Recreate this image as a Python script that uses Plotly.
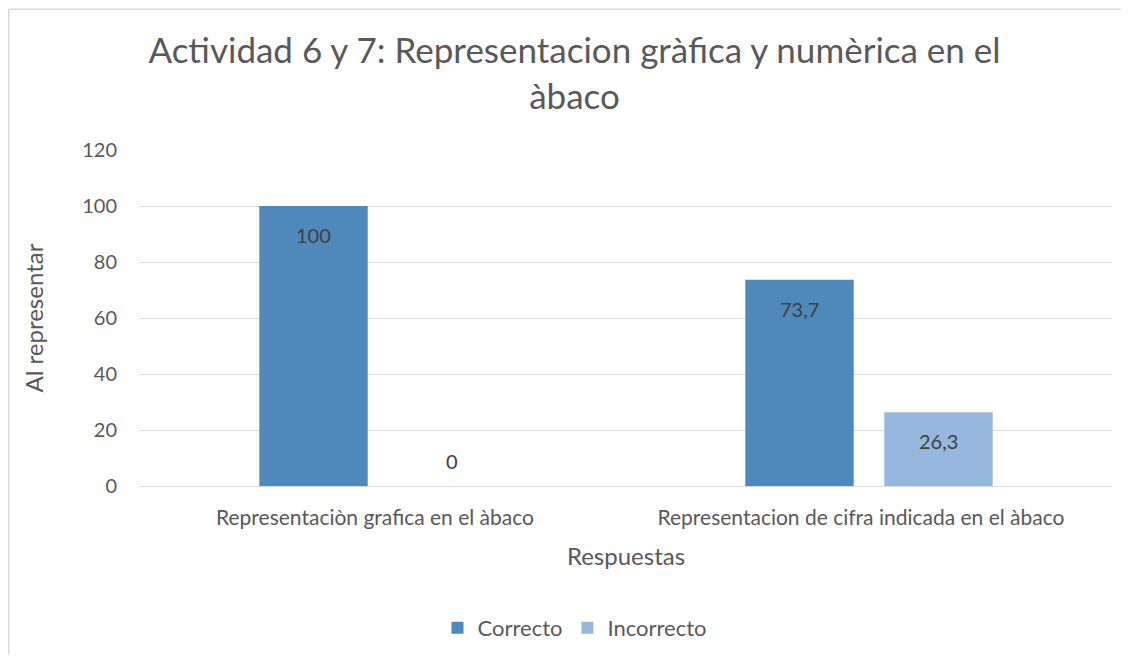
import plotly.graph_objects as go

categories = ["Representaciòn grafica en el àbaco", "Representacion de cifra indicada en el àbaco"]
correcto = [100, 73.7]
incorrecto = [0, 26.3]
y_ticks = [0, 20, 40, 60, 80, 100, 120]

# page body has an 8px margin; figure sized to fit the window
W, H = 1113, 648
ml, mt = 132, 142
pw, ph = 972, 337
mr, mb = W - ml - pw, H - mt - ph

BARGAP, GROUPGAP = 0.428, 0.22
slot_px = pw / len(categories) * (1 - BARGAP) / 2

def fmt(v):
    return ("%g" % v).replace(".", ",")

FONT = "Lato, Open Sans, sans-serif"
TXT = "#595959"
LBL = "#404040"
BORDER = "#D9D9D9"

fig = go.Figure()
fig.add_trace(go.Bar(name="Correcto", x=categories, y=correcto,
                     marker=dict(color="#4F88BB", line=dict(width=0))))
fig.add_trace(go.Bar(name="Incorrecto", x=categories, y=incorrecto,
                     marker=dict(color="#97B8DD", line=dict(width=0))))

# data labels (Excel style: inside end, or above baseline for zero)
for series, sign in ((correcto, -1), (incorrecto, 1)):
    for cat, v in zip(categories, series):
        fig.add_annotation(x=cat, y=v, text=fmt(v), showarrow=False,
                           xshift=sign * slot_px / 2,
                           yshift=-29 if v > 0 else 25,
                           font=dict(family=FONT, size=20, color=LBL))

# outer chart border (only top and left edges visible)
top_y = 1 + (mt - 0.75) / ph
left_x = (0.75 - ml) / pw
fig.add_shape(type="line", xref="paper", yref="paper",
              x0=left_x, x1=(W - ml) / pw, y0=top_y, y1=top_y,
              line=dict(color=BORDER, width=1.5), layer="below")
fig.add_shape(type="line", xref="paper", yref="paper",
              x0=left_x, x1=left_x, y0=-(H - mt - ph) / ph, y1=top_y,
              line=dict(color=BORDER, width=1.5), layer="below")

fig.update_layout(
    width=W, height=H,
    margin=dict(l=ml, r=mr, t=mt, b=mb),
    paper_bgcolor="white", plot_bgcolor="white",
    title=dict(text="Actividad 6 y 7: Representacion gràfica y numèrica en el<br>àbaco",
               x=(W / 2 + 10) / W, xanchor="center", y=1 - 55 / H, yanchor="middle",
               font=dict(family=FONT, size=35, color=TXT)),
    barmode="group", bargap=BARGAP, bargroupgap=GROUPGAP,
    font=dict(family=FONT, color=TXT),
    xaxis=dict(
        title=dict(text="Respuestas", font=dict(family=FONT, size=24, color=TXT), standoff=19),
        tickfont=dict(family=FONT, size=21, color=TXT),
        showline=True, linecolor=BORDER, linewidth=1, ticks="",
        ticklabelstandoff=13, ticklabelshift=-8,
        showgrid=False,
    ),
    yaxis=dict(
        title=dict(text="Al representar", font=dict(family=FONT, size=24, color=TXT), standoff=31),
        range=[0, 120], tickvals=y_ticks, ticktext=[str(t) for t in y_ticks],
        tickfont=dict(family=FONT, size=20, color=TXT),
        showgrid=True, gridcolor=BORDER, gridwidth=1,
        zeroline=True, zerolinecolor=BORDER, zerolinewidth=1,
        ticks="", ticklabelstandoff=22,
    ),
    legend=dict(orientation="h", x=(W / 2 + 10 - ml) / pw, xanchor="center",
                y=-(620 - (mt + ph)) / ph, yanchor="middle",
                font=dict(family=FONT, size=22, color=TXT), traceorder="normal"),
    showlegend=True,
)

fig.write_html("out.html")
